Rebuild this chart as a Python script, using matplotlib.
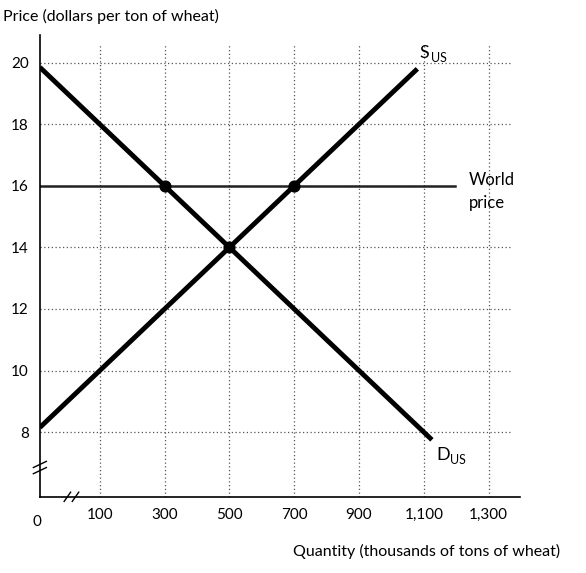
import matplotlib
matplotlib.use("Agg")
import matplotlib.pyplot as plt
import numpy as np

plt.rcParams['font.family'] = ['Lato', 'DejaVu Sans']

supply_q = [-85, 1080]
supply_p = [8.15, 19.8]
demand_q = [-85, 1125]
demand_p = [19.85, 7.75]
world_q = [-85, 1195]
world_p = [16, 16]
points_q = [300, 500, 700]
points_p = [16, 14, 16]
xticks = [100, 300, 500, 700, 900, 1100, 1300]
xlabels = ['100', '300', '500', '700', '900', '1,100', '1,300']
yticks = [8, 10, 12, 14, 16, 18, 20]

fig = plt.figure(figsize=(5.86, 5.73), dpi=100)
ax = fig.add_axes([0.068, 0.133, 0.82, 0.806])
ax.set_xlim(-85, 1398)
ax.set_ylim(5.9, 20.9)

for y in yticks:
    xe = 1195 if y == 16 else 1370
    ax.plot([-85, xe], [y, y], ls=(0, (1, 2)), color='#555', lw=0.9)
for x in xticks:
    ax.plot([x, x], [5.9, 20.6], ls=(0, (1, 2)), color='#555', lw=0.9)

ax.plot(supply_q, supply_p, color='black', lw=3.5, solid_capstyle='butt')
ax.plot(demand_q, demand_p, color='black', lw=3.5, solid_capstyle='butt')
ax.plot(world_q, world_p, color='#222', lw=1.8)
ax.scatter(points_q, points_p, s=60, color='black', zorder=5)

for s in ['top', 'right']:
    ax.spines[s].set_visible(False)
ax.spines['left'].set_linewidth(1.2)
ax.spines['bottom'].set_linewidth(1.2)
ax.set_xticks(xticks)
ax.set_xticklabels(xlabels, fontsize=11)
ax.set_yticks(yticks)
ax.set_yticklabels([str(v) for v in yticks], fontsize=11)
ax.tick_params(length=0, pad=8)

# axis break marks
ax.plot([-105, -65], [6.85, 7.05], color='black', lw=1, clip_on=False)
ax.plot([-105, -65], [6.65, 6.85], color='black', lw=1, clip_on=False)
ax.plot([-10, 10], [5.75, 6.05], color='black', lw=1, clip_on=False)
ax.plot([15, 35], [5.75, 6.05], color='black', lw=1, clip_on=False)
ax.text(-95, 5.3, '0', fontsize=11, ha='center', va='top')

ax.text(1085, 20.05, 'S', fontsize=13, ha='left', va='bottom')
ax.text(1122, 19.95, 'US', fontsize=9, ha='left', va='bottom')
ax.text(1140, 7.0, 'D', fontsize=13, ha='left', va='bottom')
ax.text(1182, 6.9, 'US', fontsize=9, ha='left', va='bottom')
ax.text(1240, 16.2, 'World', fontsize=12, ha='left', va='center')
ax.text(1240, 15.45, 'price', fontsize=12, ha='left', va='center')

fig.text(0.005, 0.985, 'Price (dollars per ton of wheat)', fontsize=11.5, ha='left', va='top')
fig.text(0.955, 0.025, 'Quantity (thousands of tons of wheat)', fontsize=11.5, ha='right', va='bottom')

fig.savefig('out.png', dpi=100)
